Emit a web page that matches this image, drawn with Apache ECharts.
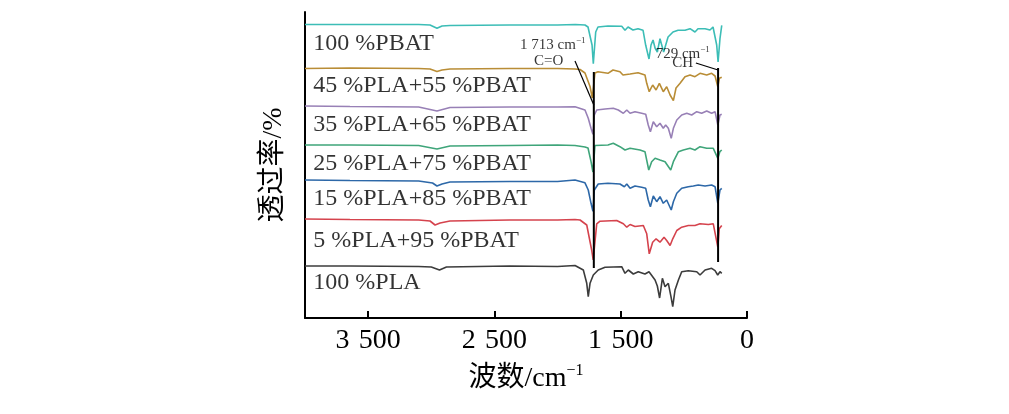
<!DOCTYPE html>
<html>
<head>
<meta charset="utf-8">
<script src="https://cdn.jsdelivr.net/npm/echarts@6/dist/echarts.min.js"></script>
<style>
html,body{margin:0;padding:0;background:#fff;}
#chart{width:1009px;height:414px;}
</style>
</head>
<body>
<div id="chart"></div>
<script>
// ---- data (wavenumber cm^-1, relative transmittance) ----
const seriesNames = ['100 %PBAT','45 %PLA+55 %PBAT','35 %PLA+65 %PBAT','25 %PLA+75 %PBAT','15 %PLA+85 %PBAT','5 %PLA+95 %PBAT','100 %PLA'];
const offsets = [193.5, 149.5, 111.5, 73, 37.5, -1.5, -48];

const pbat100 = [[4000,100],[3644,100],[3100,100],[3010,99.5],[2955,96.2],[2915,98.5],[2852,99],[2380,99.5],[2000,99.5],[1860,100],[1783,99.5],[1759,97.5],[1727,79.5],[1717,60.8],[1698,92.5],[1680,97.5],[1601,98.5],[1492,98.2],[1466,94.2],[1442,97.5],[1403,94.5],[1363,95.8],[1323,94.2],[1302,79.2],[1276,65.5],[1260,79.5],[1244,84.5],[1228,76.5],[1210,72.5],[1189,85.8],[1160,72.5],[1125,87.5],[1086,92.5],[1046,94.2],[991,94.2],[951,95.8],[912,92.5],[888,95.8],[832,95.8],[793,94.5],[769,97.5],[740,79.5],[729,62.5],[714,85.8],[700,99.2]];
const pla45 = [[4000,100],[3644,100.5],[3100,100],[3010,99.5],[2955,97],[2915,98.5],[2852,99.5],[2380,100],[2000,100],[1862,99.5],[1822,99],[1783,95.5],[1743,82],[1725,70.5],[1717,68.5],[1704,95.5],[1680,96.8],[1601,95.2],[1561,98.5],[1506,96.8],[1482,93.5],[1426,94.5],[1363,95.8],[1308,93.5],[1294,85.2],[1274,76.8],[1247,83.5],[1220,78.5],[1194,85.2],[1163,76.8],[1136,81.8],[1109,73.5],[1083,67.8],[1062,80.5],[1030,85.2],[991,91.8],[951,93.5],[912,91.8],[872,95.2],[819,93.5],[780,95.2],[753,92.5],[731,81.8],[719,90.2],[700,91.2]];
const pla35 = [[4000,100.5],[3644,100],[3100,99.5],[2955,95.5],[2852,99],[2380,99.5],[2000,99.5],[1862,99.8],[1783,96.5],[1757,88.2],[1735,78.2],[1720,72.2],[1709,91.5],[1690,96.5],[1624,97.5],[1559,98.2],[1519,96.5],[1479,93.2],[1452,96.5],[1426,93.2],[1387,94.8],[1334,93.2],[1302,92.2],[1282,81.5],[1265,74.8],[1242,84.8],[1215,79.8],[1189,83.2],[1163,78.2],[1144,81.5],[1123,78.2],[1100,68.2],[1083,78.2],[1056,86.5],[1017,91.5],[977,93.2],[938,91.5],[898,94.8],[859,93.2],[819,95.5],[780,93.2],[753,94.8],[731,81.5],[714,91.5],[700,92.2]];
const pla25 = [[4000,100],[3644,100],[3100,99.5],[2955,96],[2852,99],[2380,99.5],[2000,100],[1862,99.5],[1783,98],[1759,97],[1735,83.3],[1720,73],[1704,99.5],[1601,100],[1559,101.7],[1506,98.3],[1466,95],[1426,96.7],[1347,95],[1308,93.3],[1278,75],[1255,83.3],[1228,86.7],[1189,85],[1149,83.3],[1104,75],[1083,83.3],[1043,93.3],[1004,95],[951,96.7],[912,95],[872,98.3],[819,96.7],[767,96.7],[731,86.7],[715,93.3],[700,95]];
const pla15 = [[4000,100.5],[3644,100],[3100,99.5],[2990,97.5],[2955,94.5],[2915,96.5],[2852,98.5],[2380,99],[2000,99],[1862,100.5],[1783,97.7],[1757,90.5],[1735,77.2],[1720,69.3],[1709,90.5],[1678,96.5],[1601,97.2],[1506,96.5],[1471,93.8],[1452,96.5],[1426,92.2],[1387,94.5],[1334,93.2],[1302,92.2],[1282,80.5],[1265,73.8],[1242,84.5],[1215,78.8],[1189,83.8],[1163,77.2],[1136,80.5],[1100,70.5],[1083,78.8],[1056,87.2],[1017,92.2],[965,93.8],[925,94.5],[886,95.5],[832,94.5],[780,95.5],[753,93.8],[731,77.2],[714,90.5],[700,92.2]];
const pla5 = [[4000,100.5],[3644,100],[3100,99.5],[3010,98.5],[2970,94.5],[2930,96.5],[2852,98.5],[2380,99.5],[2000,99.5],[1862,100],[1822,99.5],[1769,94.5],[1730,69.5],[1718,59.5],[1690,95.7],[1664,98.3],[1532,99],[1479,95.7],[1452,92.3],[1426,95],[1387,93],[1321,94],[1294,85.7],[1274,65.7],[1247,77.3],[1220,80.7],[1189,77.3],[1157,82.3],[1136,79],[1109,74],[1088,80.7],[1056,89],[1017,92.3],[965,94],[912,94],[872,95.7],[806,95],[767,95.7],[731,72.3],[720,90.7],[700,94]];
const pla100 = [[4000,100],[3644,100],[3100,99.5],[3000,99],[2935,96],[2880,99],[2380,100],[2000,99.5],[1862,100.5],[1796,96],[1769,82.7],[1757,69.3],[1743,82.7],[1717,91],[1678,96],[1624,98.7],[1492,99.3],[1466,92.7],[1440,96],[1400,92],[1361,94.3],[1308,92],[1276,94.3],[1228,86],[1210,80],[1192,68],[1170,87.7],[1149,79.3],[1123,82.7],[1102,69.3],[1088,59.3],[1070,76],[1043,86],[1017,94.3],[965,95.3],[898,94.3],[872,91],[832,96],[780,97.7],[753,95.3],[732,91],[714,94.3],[700,92.7]];

const spectra = [pbat100, pla45, pla35, pla25, pla15, pla5, pla100];

// tick labels (as printed on the original axis)
const tickValues = [3500, 2500, 1500, 500];
const tickLabels = ['3\u2004500', '2\u2004500', '1\u2004500', '0'];

// series label anchors [wavenumber, plotted value]
const seriesLabelAnchors = [[3934,274.5],[3934,232.7],[3934,193],[3934,154.7],[3934,119],[3934,77.3],[3934,35.7]];

// annotation: band marker lines, leader lines, texts
const bandLines = [[[1713,246],[1713,50]], [[729,250],[729,56]]];
const leaderLines = [[[1862,257],[1713,213]], [[905,255],[729,248]]];
const annotationTexts = [['{a|1 713 cm}{s|\u22121}', 2038, 273.5], ['C=O', 2070, 256.5], ['{a|729 cm}{s|\u22121}', 1009, 264.5], ['CH', 1009, 255]];

// ---- chart ----
const colors = ['#3cbdb6','#b98d36','#9880b6','#3fa57a','#2d68a8','#d5434d','#3c3c3c'];
const serif = 'Liberation Serif, "Noto Sans CJK SC", serif';

const series = [];
spectra.forEach((s, i) => {
  series.push({
    name: seriesNames[i], type: 'line', showSymbol: false, silent: true,
    data: s.map(p => [p[0], p[1] + offsets[i]]),
    lineStyle: {color: colors[i], width: 1.6}, itemStyle: {color: colors[i]}, z: 3
  });
});
bandLines.forEach(l => series.push({type:'line', data:l, showSymbol:false, silent:true, lineStyle:{color:'#000', width:2}, z:4}));
leaderLines.forEach(l => series.push({type:'line', data:l, showSymbol:false, silent:true, lineStyle:{color:'#000', width:1.2}, z:4}));
series.push({
  type:'scatter', symbolSize:1, silent:true, itemStyle:{color:'transparent'}, z:5,
  data: seriesLabelAnchors.map((a, i) => ({value:a, label:{show:true, formatter: seriesNames[i]}})),
  label:{show:true, position:'inside', align:'left', verticalAlign:'middle', fontFamily: serif, fontSize:24, color:'#000'}
});
series.push({
  type:'scatter', symbolSize:1, silent:true, itemStyle:{color:'transparent'}, z:5,
  data: annotationTexts.map(t => ({value:[t[1], t[2]], label:{show:true, formatter: t[0]}})),
  label:{show:true, position:'inside', align:'center', verticalAlign:'middle', fontFamily: serif, fontSize:15, color:'#000',
    rich:{a:{fontFamily: serif, fontSize:15, color:'#000', verticalAlign:'bottom', lineHeight:16},
          s:{fontFamily: serif, fontSize:9, color:'#000', verticalAlign:'top', lineHeight:16}}}
});

const chart = echarts.init(document.getElementById('chart'), null, {renderer:'canvas'});
chart.setOption({
  animation: false,
  backgroundColor: '#fff',
  grid: {left: 305, right: 262, top: 12, bottom: 96, containLabel: false},
  xAxis: {
    type: 'value', inverse: true, min: 500, max: 4000,
    name: '{a|波数/cm}{s|\u22121}', nameLocation: 'middle', nameGap: 45,
    nameTextStyle: {fontFamily: serif, fontSize: 28, color: '#000',
      rich: {a:{fontFamily: serif, fontSize:28, color:'#000', verticalAlign:'bottom', lineHeight:30},
             s:{fontFamily: serif, fontSize:16, color:'#000', verticalAlign:'top', lineHeight:30}}},
    axisLine: {show: true, lineStyle: {color: '#000', width: 2}},
    axisTick: {show: true, inside: true, length: 7, lineStyle: {color:'#000', width: 2}, customValues: tickValues},
    axisLabel: {customValues: tickValues, margin: 9, fontFamily: serif, fontSize: 28, color: '#000',
      formatter: v => tickLabels[tickValues.indexOf(v)]},
    splitLine: {show: false}
  },
  yAxis: {
    type: 'value', min: 0, max: 306,
    name: '透过率/%', nameLocation: 'middle', nameGap: 17,
    nameTextStyle: {fontFamily: serif, fontSize: 28, color: '#000'},
    axisLine: {show: true, lineStyle: {color:'#000', width: 2}},
    axisTick: {show: false}, axisLabel: {show: false}, splitLine: {show: false}
  },
  series: series
});
</script>
</body>
</html>
